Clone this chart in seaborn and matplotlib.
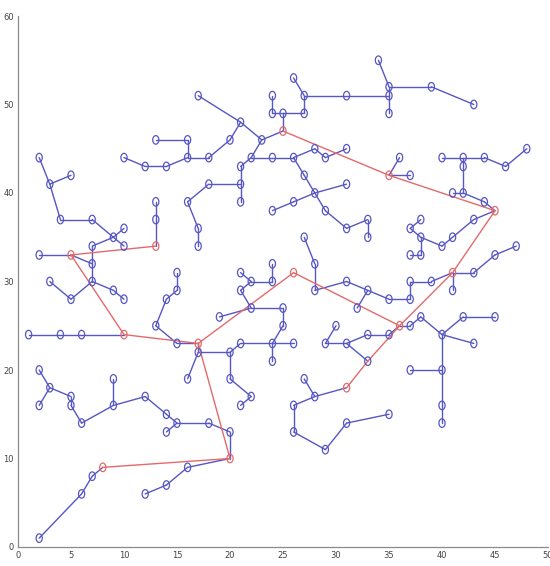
import numpy as np
import pandas as pd
import matplotlib
matplotlib.use("Agg")
import matplotlib.pyplot as plt
from matplotlib.path import Path
import seaborn as sns

# ---- node coordinates (index = node id) ----
node_x = [2, 3, 5, 4, 7, 9, 10, 10, 7, 7,
          2, 5, 13, 13, 13, 7, 5, 3, 9, 10,
          1, 4, 6, 10, 15, 15, 14, 13, 15, 17,
          17, 20, 16, 20, 22, 21, 2, 3, 2, 5,
          5, 6, 9, 9, 12, 14, 15, 14, 18, 20,
          20, 16, 14, 12, 8, 7, 6, 2, 13, 16,
          16, 10, 12, 14, 18, 20, 21, 17, 23, 25,
          25, 24, 24, 27, 27, 26, 31, 35, 35, 34,
          39, 43, 35, 22, 21, 21, 18, 16, 17, 17,
          21, 24, 26, 28, 29, 31, 27, 28, 26, 24,
          31, 29, 31, 33, 33, 35, 36, 37, 45, 44,
          42, 41, 42, 42, 40, 44, 46, 48, 43, 41,
          40, 38, 37, 38, 38, 37, 41, 43, 45, 47,
          41, 39, 37, 37, 35, 33, 32, 31, 28, 28,
          27, 26, 36, 37, 38, 40, 42, 45, 43, 40,
          37, 40, 40, 35, 33, 31, 29, 30, 33, 31,
          28, 27, 26, 26, 29, 31, 35, 21, 22, 24,
          24, 21, 22, 25, 19, 25, 24, 21, 26, 24]
node_y = [44, 41, 42, 37, 37, 35, 36, 34, 34, 32,
          33, 33, 34, 37, 39, 30, 28, 30, 29, 28,
          24, 24, 24, 24, 31, 29, 28, 25, 23, 23,
          22, 22, 19, 19, 17, 16, 20, 18, 16, 17,
          16, 14, 16, 19, 17, 15, 14, 13, 14, 13,
          10, 9, 7, 6, 9, 8, 6, 1, 46, 46,
          44, 44, 43, 43, 44, 46, 48, 51, 46, 47,
          49, 49, 51, 49, 51, 53, 51, 51, 52, 55,
          52, 50, 49, 44, 43, 41, 41, 39, 36, 34,
          39, 44, 44, 45, 44, 45, 42, 40, 39, 38,
          41, 38, 36, 37, 35, 42, 44, 42, 38, 39,
          40, 40, 43, 44, 44, 44, 43, 45, 37, 35,
          34, 35, 36, 37, 33, 33, 31, 31, 33, 34,
          29, 30, 30, 28, 28, 29, 27, 30, 29, 32,
          35, 31, 25, 25, 26, 24, 26, 26, 23, 20,
          20, 16, 14, 24, 24, 23, 23, 25, 21, 18,
          17, 19, 16, 13, 11, 14, 15, 31, 30, 30,
          32, 29, 27, 27, 26, 25, 23, 23, 23, 21]
red_nodes = [11, 12, 23, 29, 50, 54, 69, 105, 108, 126, 141, 142, 159]

# ---- tree edges (node id pairs) ----
blue_from = [0, 1, 1, 3, 4, 5, 5, 8, 8, 11, 10, 9, 15, 16, 15, 18, 12, 13, 20, 21, 22,
             24, 25, 26, 27, 28, 29, 30, 30, 31, 33, 34, 31,
             36, 37, 37, 39, 40, 41, 42, 42, 44, 45, 46, 46, 48, 49, 50, 51, 52, 54, 55, 56,
             58, 59, 61, 62, 63, 60, 64, 65, 66, 66, 68, 69, 70, 71, 70, 73, 74, 74, 76, 77,
             78, 78, 80, 77,
             68, 83, 84, 85, 86, 87, 88, 85, 83, 91, 92, 93, 94, 92, 96, 98, 99, 97, 97,
             101, 102, 103,
             105, 105, 108, 109, 110, 110, 112, 114, 113, 115, 116, 108, 118, 119, 120,
             121, 122, 121, 124,
             126, 127, 128, 126, 126, 131, 132, 133, 134, 135, 135, 137, 138, 139,
             142, 143, 144, 145, 146, 145, 145, 149, 149, 151, 142, 153, 154, 155, 156, 155,
             159, 160, 160, 162, 163, 164, 165,
             167, 168, 169, 168, 171, 172, 172, 173, 175, 176, 176, 176]
blue_to = [1, 2, 3, 4, 5, 6, 7, 5, 9, 9, 11, 15, 16, 17, 18, 19, 13, 14, 21, 22, 23,
           25, 26, 27, 28, 29, 30, 31, 32, 33, 34, 35, 177,
           37, 38, 39, 40, 41, 42, 43, 44, 45, 46, 47, 48, 49, 50, 51, 52, 53, 55, 56, 57,
           59, 60, 62, 63, 60, 64, 65, 66, 67, 68, 69, 70, 71, 72, 73, 74, 75, 76, 77, 78,
           79, 80, 81, 82,
           83, 84, 85, 86, 87, 88, 89, 90, 91, 92, 93, 94, 95, 96, 97, 97, 98, 100, 101,
           102, 103, 104,
           106, 107, 109, 110, 111, 112, 113, 113, 115, 116, 117, 118, 119, 120, 121,
           122, 123, 124, 125,
           127, 128, 129, 130, 131, 132, 133, 134, 135, 136, 137, 138, 139, 140,
           143, 144, 145, 146, 147, 148, 149, 150, 151, 152, 153, 154, 155, 156, 157, 158,
           160, 161, 162, 163, 164, 165, 166,
           168, 169, 170, 171, 172, 173, 174, 175, 176, 177, 178, 179]
red_from = [12, 11, 23, 29, 29, 50, 141, 69, 105, 108, 126, 142, 158]
red_to = [11, 23, 29, 141, 50, 54, 142, 105, 108, 126, 142, 158, 159]

# ---- ticks ----
x_ticks = [0, 5, 10, 15, 20, 25, 30, 35, 40, 45, 50]
y_ticks = [0, 10, 20, 30, 40, 50, 60]

BLUE = "#5656c4"
RED = "#e36a6a"


def edge_frame(a_list, b_list):
    rows = []
    for k, (a, b) in enumerate(zip(a_list, b_list)):
        rows.append({"edge": k, "x": node_x[a], "y": node_y[a]})
        rows.append({"edge": k, "x": node_x[b], "y": node_y[b]})
    return pd.DataFrame(rows)


nodes = pd.DataFrame({"x": node_x, "y": node_y})
nodes["red"] = [i in red_nodes for i in range(len(nodes))]

t = np.linspace(0, 2 * np.pi, 40)
ellipse = Path(np.column_stack([0.72 * np.cos(t), np.sin(t)]), closed=True)

sns.set_style("white")
fig = plt.figure(figsize=(5.5, 5.66), dpi=100)
ax = fig.add_axes([18 / 550, 19 / 566, 530 / 550, 531 / 566])

sns.lineplot(data=edge_frame(blue_from, blue_to), x="x", y="y", units="edge",
             estimator=None, sort=False, color=BLUE, lw=1.0, ax=ax, legend=False)
sns.lineplot(data=edge_frame(red_from, red_to), x="x", y="y", units="edge",
             estimator=None, sort=False, color=RED, lw=1.0, ax=ax, legend=False)

sns.scatterplot(data=nodes[~nodes["red"]], x="x", y="y", marker=ellipse, s=38,
                facecolor="none", edgecolor=BLUE, linewidth=0.9, ax=ax, zorder=3)
sns.scatterplot(data=nodes[nodes["red"]], x="x", y="y", marker=ellipse, s=38,
                facecolor="none", edgecolor=RED, linewidth=0.9, ax=ax, zorder=3)

ax.set_xlim(0, 50)
ax.set_ylim(0, 60)
ax.set_xticks(x_ticks)
ax.set_yticks(y_ticks)
ax.set_xlabel("")
ax.set_ylabel("")
for side in ["top", "right"]:
    ax.spines[side].set_visible(False)
for side in ["left", "bottom"]:
    ax.spines[side].set_color("#8a8a8a")
    ax.spines[side].set_linewidth(0.9)
ax.tick_params(direction="in", length=4, width=0.8, color="#8a8a8a",
               labelsize=6, labelcolor="#444444", pad=3)

fig.savefig("out.png", dpi=100)
